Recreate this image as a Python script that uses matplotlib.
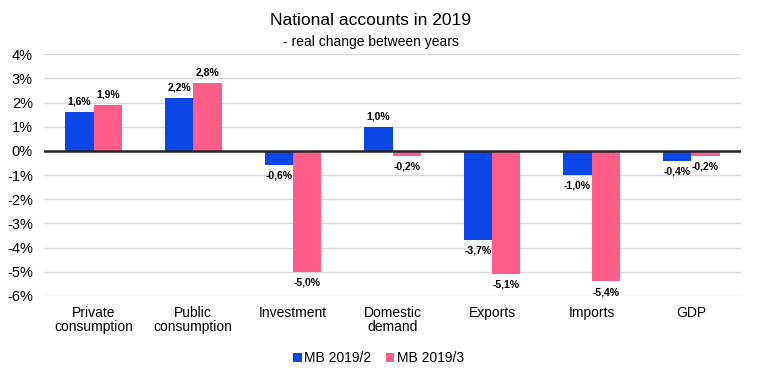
import numpy as np
import matplotlib
matplotlib.use('Agg')
import matplotlib.pyplot as plt

plt.rcParams['font.family'] = ['Liberation Sans', 'DejaVu Sans']

# data
categories = ['Private\nconsumption', 'Public\nconsumption', 'Investment', 'Domestic\ndemand',
              'Exports', 'Imports', 'GDP']
mb_2019_2 = [1.6, 2.2, -0.6, 1.0, -3.7, -1.0, -0.4]
mb_2019_3 = [1.9, 2.8, -5.0, -0.2, -5.1, -5.4, -0.2]
series_names = ['MB 2019/2', 'MB 2019/3']

blue = '#0B47E6'
pink = '#FF5C8A'

fig = plt.figure(figsize=(7.57, 3.79), dpi=100)
ax = fig.add_axes([0.058, 0.219, 0.921, 0.638])

x = np.arange(len(categories))
w = 0.285
b1 = ax.bar(x - w / 2, mb_2019_2, w, color=blue, label=series_names[0], zorder=2)
b2 = ax.bar(x + w / 2, mb_2019_3, w, color=pink, label=series_names[1], zorder=2)

# value labels, comma decimal
for bars in (b1, b2):
    for r in bars:
        v = r.get_height()
        txt = ('%.1f%%' % v).replace('.', ',')
        cx = r.get_x() + r.get_width() / 2
        if v >= 0:
            ax.annotate(txt, (cx, v), xytext=(0, 4), textcoords='offset points',
                        ha='center', va='bottom', fontsize=7.5, fontweight='bold')
        else:
            ax.annotate(txt, (cx, v), xytext=(0, -4), textcoords='offset points',
                        ha='center', va='top', fontsize=7.5, fontweight='bold')

ax.set_xlim(-0.5, len(categories) - 0.5)
ax.set_ylim(-6, 4)
ax.set_yticks(range(-6, 5))
ax.set_yticklabels(['%d%%' % t for t in range(-6, 5)], fontsize=10.5)
ax.set_xticks(x)
ax.set_xticklabels(categories, fontsize=10, linespacing=1.0)
ax.tick_params(length=0, pad=7)
ax.tick_params(axis='y', pad=8)
ax.yaxis.grid(True, color='#D9D9D9', linewidth=1, zorder=0)
ax.axhline(0, color='#262626', linewidth=1.8, zorder=3)
for s in ax.spines.values():
    s.set_visible(False)

fig.text(0.49, 0.945, 'National accounts in 2019', ha='center', va='center', fontsize=12.5)
fig.text(0.49, 0.89, '- real change between years', ha='center', va='center', fontsize=10)

fig.legend(handles=[b1, b2], loc='center', bbox_to_anchor=(0.5, 0.055), ncol=2,
           frameon=False, fontsize=10, handlelength=0.6, handleheight=0.6,
           handletextpad=0.2, columnspacing=1.0)

plt.savefig('out.png', dpi=100)
